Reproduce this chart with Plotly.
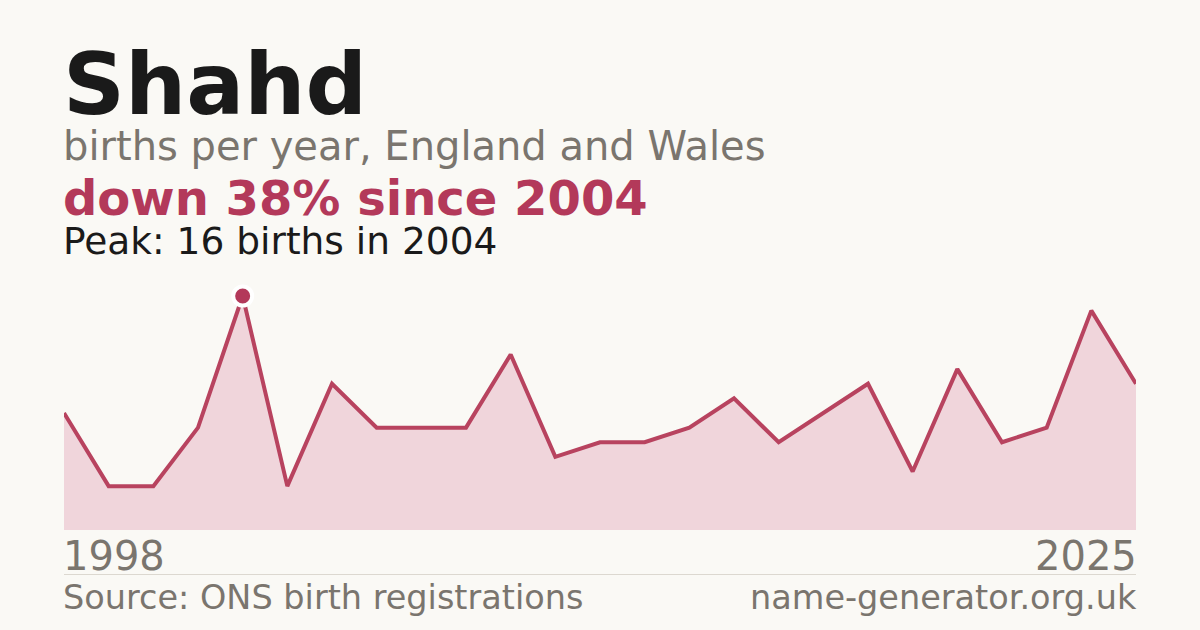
import plotly.graph_objects as go

# births per year for the name
years = ["1998", "1999", "2000", "2003", "2004", "2005", "2006", "2007", "2008",
         "2009", "2010", "2011", "2012", "2013", "2014", "2015", "2016", "2017",
         "2018", "2019", "2021", "2022", "2023", "2024", "2025"]
births = [8, 3, 3, 7, 16, 3, 10, 7, 7, 7, 12, 5, 6, 6, 7, 9, 6, 8, 10, 4, 11, 6, 7, 15, 10]

peak_year = "2004"
peak_value = 16

BG = "#faf9f5"
CRIMSON = "#b3395a"
GREY = "#7a756e"
DARK = "#1a1a1a"
FONT = "DejaVu Sans"

W, H = 1200, 630
PLOT_TOP, PLOT_BOTTOM = 280, 530
LEFT, RIGHT = 64, 1136


def py(ypx):
    # pixel row -> paper y
    return (PLOT_BOTTOM - ypx) / (PLOT_BOTTOM - PLOT_TOP)


def label(text, baseline, size, color, bold=False, x=0, anchor="left"):
    # centre of the text box sits about 0.346 em above the baseline
    return dict(
        text=f"<b>{text}</b>" if bold else text,
        xref="paper", yref="paper", x=x, y=py(baseline - 0.346 * size),
        xanchor=anchor, yanchor="middle", showarrow=False,
        xshift=-1 if anchor == "left" else 1,
        font=dict(family=FONT, size=size, color=color),
        borderpad=0, borderwidth=0,
    )


fig = go.Figure()

fig.add_trace(go.Scatter(
    x=years, y=births,
    mode="lines",
    line=dict(color="#b8435f", width=4),
    fill="tozeroy",
    fillcolor="#f0d5db",
    hoverinfo="skip",
))

fig.add_trace(go.Scatter(
    x=[peak_year], y=[peak_value],
    mode="markers",
    marker=dict(color=CRIMSON, size=19, line=dict(color="white", width=4)),
    hoverinfo="skip",
))

annotations = [
    label("Shahd", 113.5, 86, DARK, bold=True),
    label("births per year, England and Wales", 160, 40, GREY),
    label("down 38% since 2004", 215, 48, CRIMSON, bold=True),
    label("Peak: 16 births in 2004", 254, 37.5, DARK),
    label(years[0], 570, 40, GREY),
    label(years[-1], 570, 40, GREY, x=1, anchor="right"),
    label("Source: ONS birth registrations", 609, 33.5, GREY),
    label("name-generator.org.uk", 609, 33.5, GREY, x=1, anchor="right"),
]

fig.update_layout(
    width=W, height=H,
    margin=dict(l=LEFT, r=W - RIGHT, t=PLOT_TOP, b=H - PLOT_BOTTOM, pad=0),
    paper_bgcolor=BG,
    plot_bgcolor=BG,
    showlegend=False,
    annotations=annotations,
    shapes=[dict(
        type="line", xref="paper", yref="paper",
        x0=0, x1=1, y0=py(574.5), y1=py(574.5),
        line=dict(color="#dcd8d0", width=1),
    )],
    xaxis=dict(
        type="category", range=[0, len(years) - 1],
        showgrid=False, zeroline=False, showticklabels=False, showline=False,
    ),
    yaxis=dict(
        range=[0, peak_value * (PLOT_BOTTOM - PLOT_TOP) / 234],
        showgrid=False, zeroline=False, showticklabels=False, showline=False,
    ),
)

fig.write_html(
    "out.html",
    config={"displayModeBar": False},
    post_script=f"document.body.style.margin='0';document.body.style.background='{BG}';",
)
